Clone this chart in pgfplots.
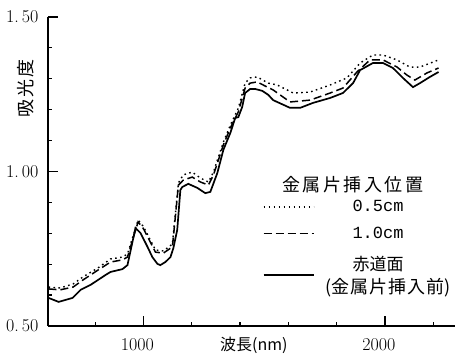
\documentclass[border=0pt]{standalone}
\usepackage{fontspec}
\usepackage{pgfplots}
\usepackage{pgfplotstable}
\pgfplotsset{compat=1.18}
\usetikzlibrary{calc}
\newfontfamily\jp{Noto Sans CJK JP}
\newfontfamily\mono{Liberation Mono}
\pgfplotsset{lowleg/.style={legend image code/.code={\path (0pt,11pt); \draw[##1] (0pt,-11pt) -- (50pt,-11pt);}}}

\pgfplotstableread{
x y
607 0.591
649 0.578
707 0.591
740 0.617
781 0.633
843 0.665
864 0.675
913 0.684
934 0.697
967 0.817
988 0.801
1017 0.756
1037 0.723
1058 0.701
1070 0.697
1091 0.707
1112 0.723
1124 0.752
1140 0.811
1153 0.940
1161 0.950
1186 0.960
1223 0.947
1256 0.930
1277 0.934
1306 0.995
1331 1.070
1360 1.125
1380 1.173
1393 1.176
1409 1.209
1421 1.254
1442 1.267
1463 1.267
1492 1.261
1517 1.248
1537 1.231
1607 1.206
1649 1.206
1702 1.222
1773 1.238
1826 1.254
1868 1.286
1897 1.328
1950 1.351
1992 1.351
2033 1.335
2074 1.303
2116 1.273
2145 1.286
2186 1.306
2222 1.322
}\solid

\pgfplotstableread{
x y
607 0.620
655 0.617
709 0.626
750 0.649
812 0.681
864 0.707
913 0.714
934 0.723
978 0.837
1000 0.815
1050 0.739
1083 0.736
1120 0.756
1145 0.956
1165 0.972
1202 0.982
1236 0.966
1269 0.956
1290 0.989
1331 1.086
1360 1.141
1393 1.193
1421 1.270
1442 1.286
1471 1.290
1513 1.273
1537 1.264
1607 1.225
1690 1.231
1773 1.254
1826 1.270
1884 1.322
1938 1.361
1992 1.361
2050 1.338
2091 1.312
2124 1.296
2174 1.319
2222 1.335
}\dashed

\pgfplotstableread{
x y
607 0.626
655 0.623
709 0.636
750 0.659
812 0.688
864 0.717
913 0.723
934 0.733
978 0.843
1000 0.822
1050 0.746
1083 0.743
1120 0.765
1145 0.963
1165 0.989
1202 0.998
1236 0.979
1269 0.966
1290 0.998
1331 1.095
1360 1.150
1393 1.205
1421 1.286
1442 1.303
1471 1.306
1517 1.286
1554 1.280
1620 1.254
1690 1.257
1773 1.280
1843 1.303
1897 1.351
1950 1.377
1992 1.377
2050 1.361
2103 1.338
2145 1.338
2222 1.361
}\dotted

\begin{document}
\begin{tikzpicture}
\begin{axis}[name=ax,
  scale only axis, width=407pt, height=309pt,
  xmin=605, xmax=2290, ymin=0.5, ymax=1.5,
  axis x line=bottom, axis y line=left,
  axis line style={-, line width=2.4pt},
  xtick={1000,2000}, xticklabels={1000,2000},
  minor xtick={800,1200,1400,1600,1800,2200},
  ytick={0.5,1,1.5}, yticklabels={0.\,50,1.\,00,1.\,50},
  minor ytick={0.6,0.7,0.8,0.9,1.1,1.2,1.3,1.4},
  tick align=inside, major tick length=10pt, minor tick length=4pt,
  every tick/.style={black, line width=1.6pt},
  every minor tick/.style={black, line width=1.2pt},
  ticklabel style={font=\fontsize{18}{18}\selectfont},
  xticklabel style={xshift=-6pt, yshift=-9pt},
  yticklabel style={xshift=-6pt},
  xlabel={\jp 波長(nm)},
  xlabel style={at={(axis description cs:0.506,-0.062)}, anchor=center, font=\fontsize{16}{16}\selectfont},
  ylabel={\jp 吸\kern2pt 光\kern2pt 度},
  ylabel style={at={(axis description cs:-0.054,0.77)}, anchor=center, font=\fontsize{18}{18}\selectfont},
  legend style={at={(axis description cs:0.52,0.42)}, anchor=north west, draw=none, fill=none,
    font=\fontsize{17}{20}\selectfont, row sep=10pt, column sep=36pt,
    cells={anchor=center}},
  legend image code/.code={\draw[#1] (0pt,0pt) -- (50pt,0pt);},
]
\addplot[black, line width=1.4pt, dash pattern=on 1.6pt off 3.4pt] table[x=x,y=y]{\dotted};
\addlegendentry{\mono 0.5cm}
\addplot[black, line width=1.5pt, dash pattern=on 8pt off 4pt] table[x=x,y=y]{\dashed};
\addlegendentry{\mono 1.0cm}
\addplot[black, line width=1.7pt, lowleg] table[x=x,y=y]{\solid};
\addlegendentry{\jp\fontsize{17}{20}\selectfont 赤道面}
\node[font=\jp\fontsize{18}{18}\selectfont] at (axis description cs:0.749,0.456) {金\kern2.5pt 属\kern2.5pt 片\kern2.5pt 挿\kern2.5pt 入\kern2.5pt 位\kern2.5pt 置};
\node[font=\jp\fontsize{18}{18}\selectfont] at (axis description cs:0.836,0.123) {(金\kern1pt 属\kern1pt 片\kern1pt 挿\kern1pt 入\kern1pt 前)};
\end{axis}
\pgfresetboundingbox
\path[use as bounding box] ($(ax.south west)+(-48pt,-32pt)$) rectangle ($(ax.north east)+(10pt,17pt)$);
\end{tikzpicture}
\end{document}
